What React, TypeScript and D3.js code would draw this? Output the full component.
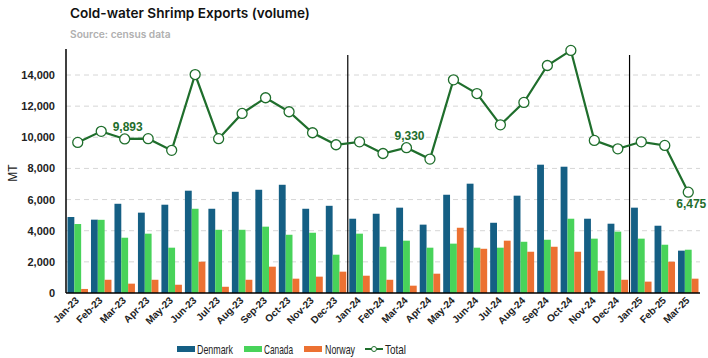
import React from "react";
import * as d3 from "d3";

const months = ["Jan-23","Feb-23","Mar-23","Apr-23","May-23","Jun-23","Jul-23","Aug-23","Sep-23","Oct-23","Nov-23","Dec-23","Jan-24","Feb-24","Mar-24","Apr-24","May-24","Jun-24","Jul-24","Aug-24","Sep-24","Oct-24","Nov-24","Dec-24","Jan-25","Feb-25","Mar-25"];
const denmark = [4880,4710,5730,5160,5670,6570,5410,6500,6630,6950,5410,5600,4770,5090,5480,4390,6310,7020,4510,6250,8240,8110,4770,4450,5480,4320,2720];
const canada = [4430,4700,3550,3810,2910,5410,4060,4060,4260,3740,3870,2460,3810,2970,3360,2910,3170,2910,2910,3290,3420,4770,3490,3940,3490,3100,2780];
const norway = [260,850,600,850,530,2010,400,850,1690,920,1050,1370,1110,850,470,1240,4190,2840,3360,2650,2970,2650,1430,850,730,2010,920];
const total = [9670,10380,9893,9910,9160,14030,9910,11530,12540,11640,10290,9520,9710,8960,9330,8600,13690,12810,10800,12240,14610,15580,9800,9260,9710,9480,6475];
const labelled = [{ i: 2, pos: "above" }, { i: 14, pos: "above" }, { i: 26, pos: "below" }];
const yTicks = [0, 2000, 4000, 6000, 8000, 10000, 12000, 14000];
const separators = ["Jan-24", "Jan-25"];

const seriesNames = ["Denmark", "Canada", "Norway"];
const colors = ["#155f84", "#48d35a", "#ec7132"];
const lineColor = "#1f6e2c";

export default function App() {
  const W = 708, H = 358;
  const left = 66, right = 700, top = 49, bottom = 293;
  const x = d3.scaleBand<string>().domain(months).range([left, right]).padding(0);
  const y = d3.scaleLinear().domain([0, 14000]).range([bottom, 75]);
  const inner = d3.scaleBand<string>().domain(seriesNames).range([0, x.bandwidth()]).paddingOuter(0.22).paddingInner(0);
  const data = [denmark, canada, norway];
  const fmt = d3.format(",");
  const lineGen = d3.line<number>().x((_, i) => (x(months[i]) as number) + x.bandwidth() / 2).y(d => y(d));
  const font = "'Liberation Sans', Arial, sans-serif";
  const cx = (i: number) => (x(months[i]) as number) + x.bandwidth() / 2;

  return (
    <svg width={W} height={H} style={{ position: "absolute", left: 0, top: 0, background: "#fff" }}>
      <text x={70} y={18} fontFamily="Inter, 'Open Sans', sans-serif" fontWeight={600} fontSize={13.6} fill="#111">Cold-water Shrimp Exports (volume)</text>
      <text x={70} y={38} fontFamily="Inter, 'Open Sans', sans-serif" fontWeight={600} fontSize={10.2} fill="#b0b0b0">Source: census data</text>

      {yTicks.filter(t => t > 0).map(t => (
        <line key={t} x1={left} x2={right} y1={y(t)} y2={y(t)} stroke="#d6d6d6" strokeDasharray="5,4" strokeWidth={1} />
      ))}
      {yTicks.map(t => (
        <text key={t} x={55} y={y(t) + 4} textAnchor="end" fontFamily={font} fontWeight={600} fontSize={11} fill="#222">{fmt(t)}</text>
      ))}
      <text transform={`translate(17,${(top + bottom) / 2 + 2}) rotate(-90)`} textAnchor="middle" fontFamily={font} fontSize={12} fill="#222">MT</text>

      {data.map((series, s) => series.map((v, i) => (
        <rect key={`${s}-${i}`} x={(x(months[i]) as number) + (inner(seriesNames[s]) as number)} y={y(v)} width={inner.bandwidth()} height={bottom - y(v)} fill={colors[s]} />
      )))}

      {separators.map(m => (
        <line key={m} x1={x(m) as number} x2={x(m) as number} y1={55} y2={bottom} stroke="#000" strokeWidth={1.2} />
      ))}
      <line x1={left} x2={left} y1={top} y2={bottom} stroke="#000" strokeWidth={1.5} />
      <line x1={left} x2={right} y1={bottom} y2={bottom} stroke="#000" strokeWidth={1.5} />

      <path d={lineGen(total) || ""} fill="none" stroke={lineColor} strokeWidth={2.2} />
      {total.map((v, i) => (
        <circle key={i} cx={cx(i)} cy={y(v)} r={5} fill="#fff" stroke={lineColor} strokeWidth={1.3} />
      ))}
      {labelled.map(l => (
        <text key={l.i} x={cx(l.i) + 3} y={l.pos === "above" ? y(total[l.i]) - 8 : y(total[l.i]) + 16} textAnchor="middle" fontFamily={font} fontWeight={700} fontSize={12} fill={lineColor}>{fmt(total[l.i])}</text>
      ))}

      {months.map((m, i) => (
        <text key={m} transform={`translate(${cx(i) + 2},${bottom + 8}) rotate(-45)`} textAnchor="end" fontFamily={font} fontWeight={600} fontSize={10} fill="#222">{m}</text>
      ))}

      <g fontFamily={font} fontSize={13.5} fill="#222">
        <rect x={177} y={346} width={18} height={6} fill={colors[0]} />
        <text x={197} y={353.5} textLength={36} lengthAdjust="spacingAndGlyphs">Denmark</text>
        <rect x={244} y={346} width={18} height={6} fill={colors[1]} />
        <text x={264} y={353.5} textLength={29} lengthAdjust="spacingAndGlyphs">Canada</text>
        <rect x={304} y={346} width={18} height={6} fill={colors[2]} />
        <text x={325} y={353.5} textLength={30} lengthAdjust="spacingAndGlyphs">Norway</text>
        <line x1={365} x2={383} y1={349} y2={349} stroke={lineColor} strokeWidth={2} />
        <circle cx={374} cy={349} r={2.5} fill="#fff" stroke={lineColor} strokeWidth={1} />
        <text x={385} y={353.5} textLength={21} lengthAdjust="spacingAndGlyphs">Total</text>
      </g>
    </svg>
  );
}
